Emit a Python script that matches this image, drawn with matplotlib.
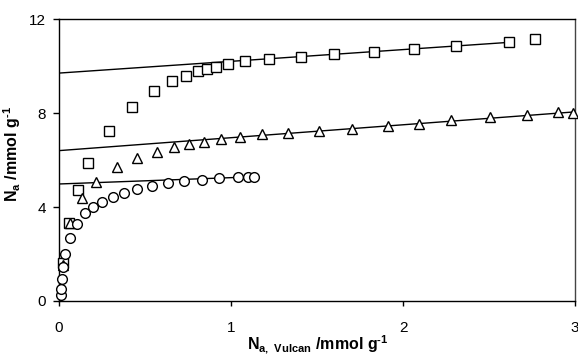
import numpy as np
import matplotlib
matplotlib.use("Agg")
import matplotlib.pyplot as plt

plt.rcParams["font.family"] = ["Liberation Sans", "DejaVu Sans"]
plt.rcParams["mathtext.fontset"] = "custom"
plt.rcParams["mathtext.rm"] = "Liberation Sans:bold"
plt.rcParams["mathtext.default"] = "rm"

# squares
sq_x = [0.023, 0.058, 0.11, 0.169, 0.29, 0.424, 0.552, 0.657, 0.738, 0.808,
        0.86, 0.913, 0.983, 1.081, 1.221, 1.407, 1.599, 1.831, 2.064, 2.308,
        2.616, 2.767]
sq_y = [1.62, 3.32, 4.72, 5.87, 7.23, 8.26, 8.94, 9.36, 9.57, 9.79,
        9.87, 9.96, 10.09, 10.21, 10.30, 10.38, 10.51, 10.60, 10.72, 10.85,
        11.02, 11.15]

# triangles
tri_x = [0.023, 0.064, 0.134, 0.215, 0.337, 0.453, 0.570, 0.669, 0.756, 0.843,
         0.942, 1.052, 1.180, 1.331, 1.512, 1.703, 1.913, 2.093, 2.279, 2.506,
         2.721, 2.901, 2.988]
tri_y = [1.55, 3.32, 4.38, 5.06, 5.70, 6.09, 6.34, 6.55, 6.68, 6.77,
         6.89, 6.98, 7.11, 7.15, 7.23, 7.32, 7.45, 7.53, 7.70, 7.83,
         7.91, 8.04, 8.00]

# circles
circ_x = [0.010, 0.012, 0.016, 0.025, 0.035, 0.064, 0.105, 0.151, 0.198, 0.250,
          0.314, 0.378, 0.453, 0.541, 0.634, 0.727, 0.831, 0.930, 1.041, 1.099,
          1.134]
circ_y = [0.26, 0.51, 0.94, 1.45, 2.00, 2.68, 3.28, 3.74, 4.00, 4.21,
          4.43, 4.60, 4.77, 4.89, 5.02, 5.11, 5.15, 5.23, 5.28, 5.28,
          5.28]

# linear fits of the plateau regions: intercept, slope, x end
fit_intercept = [9.70, 6.40, 4.98]
fit_slope = [0.50, 0.55, 0.27]
fit_xend = [2.62, 3.0, 1.13]

fig = plt.figure(figsize=(5.78, 3.56), dpi=100)
ax = fig.add_axes([0.102, 0.1545, 0.893, 0.792])

mk = dict(linestyle="none", markerfacecolor="white", markeredgecolor="black",
          markeredgewidth=1.0, markersize=7, clip_on=False, zorder=3)
ax.plot(sq_x, sq_y, marker="s", **mk)
ax.plot(tri_x, tri_y, marker="^", **mk)
ax.plot(circ_x, circ_y, marker="o", **mk)

for b, m, xe in zip(fit_intercept, fit_slope, fit_xend):
    xs = np.array([0.0, xe])
    ax.plot(xs, b + m * xs, color="black", lw=1.0, zorder=2)

ax.set_xlim(0, 3)
ax.set_ylim(0, 12)
ax.set_xticks([0, 1, 2, 3])
ax.set_yticks([0, 4, 8, 12])
ax.tick_params(axis="x", direction="out", length=3.5, width=1, labelsize=11, pad=11)
ax.tick_params(axis="y", direction="out", length=4.5, width=1, labelsize=11, pad=5)
for s in ax.spines.values():
    s.set_linewidth(1.0)
ax.spines["right"].set_color("#444444")

ax.set_xlabel(r"N$_{a,\ Vulcan}$ /mmol g$^{\text{-}1}$", fontweight="bold",
              fontsize=11.5)
ax.set_ylabel(r"N$_{a}$ /mmol g$^{\text{-}1}$", fontweight="bold",
              fontsize=11.5)
ax.xaxis.set_label_coords(0.501, -0.115)
ax.yaxis.set_label_coords(-0.07, 0.52)

fig.savefig("out.png", dpi=100)
